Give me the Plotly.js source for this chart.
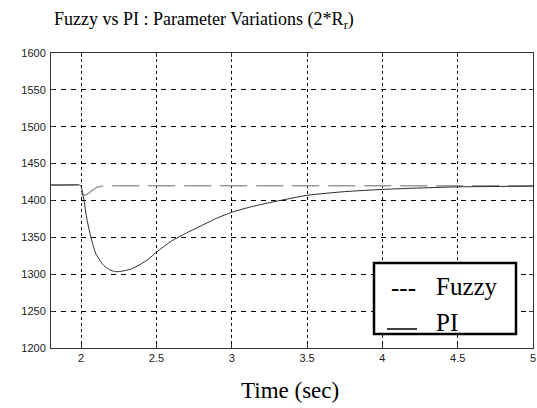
<!DOCTYPE html>
<html>
<head>
<meta charset="utf-8">
<script src="https://cdn.plot.ly/plotly-3.0.1.min.js"></script>
<style>html,body{margin:0;padding:0;background:#fff;}#chart{width:537px;height:408px;}</style>
</head>
<body>
<div id="chart"></div>
<script>
// ---- data ----
const chartTitle = "Fuzzy vs PI : Parameter Variations (2*R<sub>r</sub>)";
const xTitle = "Time (sec)";
const seriesNames = ["Fuzzy", "PI"];

const fuzzyTime = [1.80, 1.90, 1.99, 2.00, 2.005, 2.02, 2.027, 2.05, 2.08, 2.104, 2.14, 2.17, 2.5, 3.0, 3.5, 4.0, 4.5, 5.0];
const fuzzySpeed = [1421, 1421, 1421, 1419, 1408, 1407, 1407, 1410, 1414, 1418, 1419.5, 1420, 1420, 1420, 1420, 1420, 1420, 1420];

const piTime = [1.80, 1.90, 1.99, 2.00, 2.015, 2.04, 2.07, 2.10, 2.15, 2.19, 2.23, 2.28, 2.33, 2.39, 2.45, 2.50, 2.60, 2.70, 2.80, 2.90, 3.00, 3.12, 3.25, 3.50, 3.75, 4.00, 4.25, 4.50, 4.75, 5.00];
const piSpeed = [1421, 1421, 1421, 1419, 1405, 1373, 1346, 1327, 1312, 1306, 1303.5, 1304.5, 1307, 1313, 1321, 1330, 1345, 1356, 1366, 1376, 1384, 1391, 1397, 1407, 1412, 1415, 1417, 1418.5, 1419, 1419.5];

const xTicks = [2, 2.5, 3, 3.5, 4, 4.5, 5];
const yTicks = [1200, 1250, 1300, 1350, 1400, 1450, 1500, 1550, 1600];

// ---- geometry (pixels) ----
const W = 537, H = 408;
const L = 51, R = 533, T = 53, B = 348;
const px = x => (x - L) / (R - L);
const py = y => (B - y) / (B - T);

const serif = "Liberation Serif, Times New Roman, serif";
const sans = "Liberation Sans, Arial, sans-serif";

const traces = [
  {x: fuzzyTime, y: fuzzySpeed, name: seriesNames[0], mode: "lines",
   line: {color: "#9a9a9a", width: 1.5, dash: "27px,9px"}, showlegend: false, hoverinfo: "skip"},
  {x: piTime, y: piSpeed, name: seriesNames[1], mode: "lines",
   line: {color: "#2a2a2a", width: 1, shape: "spline", smoothing: 0.6}, showlegend: false, hoverinfo: "skip"}
];

const axisCommon = {
  showline: true, linecolor: "#333", linewidth: 1, mirror: "ticks",
  ticks: "inside", ticklen: 4, tickcolor: "#333",
  showgrid: true, gridcolor: "#000", gridwidth: 1,
  zeroline: false, tickfont: {family: sans, size: 11, color: "#222"}
};

const layout = {
  width: W, height: H,
  margin: {l: L, r: W - R, t: T, b: H - B, pad: 0},
  paper_bgcolor: "#fff", plot_bgcolor: "#fff",
  showlegend: false,
  title: {text: chartTitle, font: {family: serif, size: 18, color: "#000"},
          xref: "container", yref: "container", x: 54 / W, xanchor: "left",
          y: 1 - 19 / H, yanchor: "middle"},
  xaxis: Object.assign({}, axisCommon, {range: [1.8, 5], tickvals: xTicks, ticktext: xTicks.map(String),
          griddash: "3px,3px"}),
  yaxis: Object.assign({}, axisCommon, {range: [1200, 1600], tickvals: yTicks, ticktext: yTicks.map(String),
          griddash: "5px,5px", ticklabelstandoff: 2}),
  shapes: [
    {type: "rect", xref: "paper", yref: "paper", x0: px(374), x1: px(516), y0: py(334), y1: py(263),
     line: {color: "#000", width: 2.5}, fillcolor: "#fff", layer: "above"},
    {type: "line", xref: "paper", yref: "paper", x0: px(387), x1: px(417), y0: py(329), y1: py(329),
     line: {color: "#000", width: 1.5}, layer: "above"}
  ],
  annotations: [
    {text: xTitle, xref: "paper", yref: "paper", x: px(290), y: py(390), xanchor: "center", yanchor: "middle",
     showarrow: false, font: {family: serif, size: 23, color: "#000"}},
    {text: "---", xref: "paper", yref: "paper", x: px(389), y: py(287), xanchor: "left", yanchor: "middle",
     showarrow: false, font: {family: serif, size: 25, color: "#000"}},
    {text: seriesNames[0], xref: "paper", yref: "paper", x: px(434), y: py(286), xanchor: "left", yanchor: "middle",
     showarrow: false, font: {family: serif, size: 25, color: "#000"}},
    {text: seriesNames[1], xref: "paper", yref: "paper", x: px(434), y: py(322), xanchor: "left", yanchor: "middle",
     showarrow: false, font: {family: serif, size: 25, color: "#000"}}
  ]
};

Plotly.newPlot("chart", traces, layout, {staticPlot: true, displayModeBar: false});
</script>
</body>
</html>
